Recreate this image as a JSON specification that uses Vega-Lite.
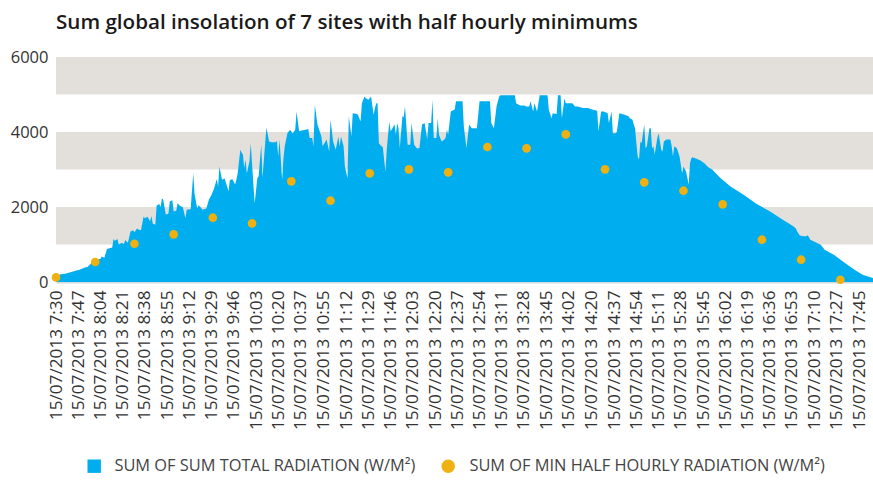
{
  "$schema": "https://vega.github.io/schema/vega-lite/v6.json",
  "width": 817,
  "height": 225,
  "autosize": {"type": "none"},
  "padding": {"left": 56, "top": 57, "right": 0, "bottom": 200},
  "background": "white",
  "title": {"text": "Sum global insolation of 7 sites with half hourly minimums", "anchor": "start", "frame": "group", "font": "Open Sans", "fontSize": 20.6, "fontWeight": 600, "color": "#1a1a1a", "offset": 15},
  "config": {"view": {"stroke": null}, "font": "Open Sans", "axisX": {"labelOverlap": false, "labelSeparation": 0}, "axis": {"labelOverlap": false}},
  "resolve": {"scale": {"color": "independent"}},
  "layer": [
    {
      "data": {"values": [{"lo": 1000, "hi": 2000}, {"lo": 3000, "hi": 4000}, {"lo": 5000, "hi": 6000}]},
      "mark": {"type": "rect", "color": "#E3E0DC"},
      "encoding": {
        "y": {"field": "lo", "type": "quantitative", "scale": {"domain": [0, 6000], "nice": false},
              "axis": {"values": [0, 1000, 2000, 3000, 4000, 5000, 6000], "format": "d", "title": null, "domain": false, "ticks": false, "grid": false, "labelFont": "Open Sans", "labelFontSize": 16.5, "labelColor": "#333333", "labelPadding": 8}},
        "y2": {"field": "hi"}
      }
    },
    {
      "data": {"values": [
        {"t":"07:30","v":130},{"t":"07:33","v":200},{"t":"07:37","v":220},{"t":"07:41","v":260},{"t":"07:45","v":300},{"t":"07:48","v":330},{"t":"07:52","v":390},{"t":"07:54","v":400},{"t":"07:56","v":470},{"t":"07:58","v":540},
        {"t":"08:01","v":590},{"t":"08:04","v":620},{"t":"08:05","v":680},{"t":"08:07","v":650},{"t":"08:09","v":880},{"t":"08:11","v":900},{"t":"08:13","v":920},{"t":"08:14","v":1150},{"t":"08:15","v":1100},{"t":"08:17","v":1150},
        {"t":"08:18","v":1000},{"t":"08:20","v":1040},{"t":"08:22","v":1020},{"t":"08:23","v":1120},{"t":"08:25","v":1050},{"t":"08:27","v":1350},{"t":"08:29","v":1380},{"t":"08:30","v":1330},{"t":"08:32","v":1430},{"t":"08:33","v":1400},
        {"t":"08:35","v":1380},{"t":"08:37","v":1750},{"t":"08:38","v":1700},{"t":"08:40","v":1740},{"t":"08:42","v":1620},{"t":"08:43","v":1760},{"t":"08:44","v":1560},{"t":"08:46","v":1530},{"t":"08:47","v":2040},{"t":"08:49","v":2080},
        {"t":"08:50","v":2000},{"t":"08:51","v":2230},{"t":"08:52","v":2200},{"t":"08:54","v":1800},{"t":"08:56","v":1820},{"t":"08:57","v":2150},{"t":"08:59","v":2180},{"t":"09:00","v":1880},{"t":"09:02","v":1900},{"t":"09:03","v":2100},
        {"t":"09:05","v":2030},{"t":"09:07","v":2000},{"t":"09:09","v":1700},{"t":"09:10","v":1930},{"t":"09:13","v":1940},{"t":"09:15","v":2900},{"t":"09:16","v":2350},{"t":"09:18","v":1970},{"t":"09:19","v":2050},{"t":"09:21","v":1980},
        {"t":"09:22","v":1930},{"t":"09:25","v":1960},{"t":"09:27","v":2200},{"t":"09:29","v":2330},{"t":"09:31","v":2500},{"t":"09:33","v":2750},{"t":"09:34","v":2550},{"t":"09:35","v":3080},{"t":"09:37","v":2730},{"t":"09:39","v":2760},
        {"t":"09:42","v":2420},{"t":"09:43","v":2720},{"t":"09:45","v":2740},{"t":"09:47","v":2600},{"t":"09:48","v":2730},{"t":"09:49","v":2900},{"t":"09:51","v":3530},{"t":"09:52","v":3450},{"t":"09:53","v":3400},{"t":"09:54","v":3040},
        {"t":"09:55","v":3260},{"t":"09:56","v":2900},{"t":"09:58","v":3220},{"t":"09:59","v":3700},{"t":"10:01","v":2600},{"t":"10:02","v":2100},{"t":"10:04","v":2770},{"t":"10:05","v":2820},{"t":"10:07","v":3660},{"t":"10:08","v":2800},
        {"t":"10:10","v":3700},{"t":"10:11","v":4120},{"t":"10:13","v":3750},{"t":"10:15","v":3730},{"t":"10:18","v":3730},{"t":"10:19","v":3770},{"t":"10:20","v":3350},{"t":"10:21","v":3800},{"t":"10:23","v":2730},{"t":"10:24","v":3300},
        {"t":"10:25","v":3620},{"t":"10:27","v":3970},{"t":"10:29","v":4060},{"t":"10:31","v":3960},{"t":"10:33","v":4060},{"t":"10:34","v":4550},{"t":"10:36","v":4020},{"t":"10:38","v":4040},{"t":"10:41","v":4060},{"t":"10:43","v":4080},
        {"t":"10:44","v":3840},{"t":"10:46","v":3840},{"t":"10:47","v":3620},{"t":"10:48","v":4730},{"t":"10:50","v":4200},{"t":"10:51","v":4100},{"t":"10:53","v":3880},{"t":"10:54","v":3620},{"t":"10:57","v":3800},{"t":"10:59","v":3480},
        {"t":"11:00","v":4330},{"t":"11:02","v":3750},{"t":"11:04","v":3530},{"t":"11:06","v":3880},{"t":"11:07","v":3620},{"t":"11:08","v":3880},{"t":"11:10","v":3620},{"t":"11:11","v":3085},{"t":"11:13","v":2770},{"t":"11:14","v":4420},
        {"t":"11:16","v":3880},{"t":"11:17","v":4500},{"t":"11:20","v":4480},{"t":"11:21","v":4460},{"t":"11:23","v":4280},{"t":"11:24","v":4770},{"t":"11:26","v":4950},{"t":"11:27","v":4900},{"t":"11:29","v":4860},{"t":"11:31","v":4950},
        {"t":"11:33","v":4460},{"t":"11:34","v":4640},{"t":"11:35","v":4770},{"t":"11:36","v":4770},{"t":"11:37","v":3700},{"t":"11:39","v":3620},{"t":"11:40","v":3600},{"t":"11:42","v":2950},{"t":"11:43","v":3530},{"t":"11:45","v":4280},
        {"t":"11:46","v":4020},{"t":"11:49","v":4200},{"t":"11:50","v":3930},{"t":"11:51","v":4240},{"t":"11:52","v":4100},{"t":"11:53","v":3570},{"t":"11:55","v":4420},{"t":"11:56","v":4400},{"t":"11:57","v":4680},{"t":"11:59","v":3660},
        {"t":"12:01","v":3660},{"t":"12:02","v":4240},{"t":"12:04","v":3660},{"t":"12:06","v":3570},{"t":"12:08","v":3570},{"t":"12:10","v":4200},{"t":"12:12","v":4240},{"t":"12:14","v":3800},{"t":"12:15","v":4240},{"t":"12:17","v":4240},
        {"t":"12:18","v":4860},{"t":"12:19","v":3840},{"t":"12:21","v":3840},{"t":"12:22","v":4370},{"t":"12:23","v":3930},{"t":"12:25","v":3750},{"t":"12:27","v":3800},{"t":"12:28","v":3840},{"t":"12:29","v":4060},{"t":"12:30","v":3930},
        {"t":"12:32","v":4550},{"t":"12:35","v":4600},{"t":"12:36","v":4820},{"t":"12:39","v":4820},{"t":"12:41","v":4820},{"t":"12:42","v":4150},{"t":"12:44","v":3570},{"t":"12:46","v":4200},{"t":"12:48","v":4100},{"t":"12:52","v":4100},
        {"t":"12:54","v":4820},{"t":"12:58","v":4820},{"t":"13:02","v":4820},{"t":"13:03","v":4240},{"t":"13:05","v":4100},{"t":"13:07","v":4680},{"t":"13:09","v":4950},{"t":"13:10","v":4980},{"t":"13:21","v":4980},{"t":"13:22","v":4770},
        {"t":"13:25","v":4710},{"t":"13:28","v":4710},{"t":"13:30","v":4680},{"t":"13:32","v":4680},{"t":"13:33","v":4820},{"t":"13:35","v":4550},{"t":"13:36","v":4770},{"t":"13:38","v":4550},{"t":"13:40","v":4980},{"t":"13:46","v":4980},
        {"t":"13:47","v":4600},{"t":"13:49","v":4370},{"t":"13:50","v":4500},{"t":"13:53","v":4480},{"t":"13:54","v":4980},{"t":"13:56","v":4980},{"t":"13:57","v":4370},{"t":"13:59","v":4900},{"t":"14:00","v":4770},{"t":"14:05","v":4770},
        {"t":"14:07","v":4680},{"t":"14:09","v":4680},{"t":"14:13","v":4640},{"t":"14:17","v":4640},{"t":"14:20","v":4600},{"t":"14:24","v":4570},{"t":"14:25","v":4020},{"t":"14:27","v":4550},{"t":"14:29","v":4550},{"t":"14:32","v":4500},
        {"t":"14:33","v":4240},{"t":"14:35","v":4550},{"t":"14:36","v":3970},{"t":"14:38","v":3970},{"t":"14:39","v":4000},{"t":"14:41","v":4500},{"t":"14:43","v":4480},{"t":"14:45","v":4460},{"t":"14:48","v":4420},{"t":"14:49","v":4370},
        {"t":"14:51","v":4330},{"t":"14:52","v":4200},{"t":"14:53","v":4100},{"t":"14:54","v":3700},{"t":"14:55","v":3350},{"t":"14:56","v":3260},{"t":"14:57","v":3750},{"t":"14:58","v":3700},{"t":"15:00","v":4200},{"t":"15:01","v":3570},
        {"t":"15:02","v":3620},{"t":"15:04","v":4100},{"t":"15:05","v":4100},{"t":"15:06","v":3570},{"t":"15:07","v":3620},{"t":"15:08","v":3400},{"t":"15:10","v":3840},{"t":"15:11","v":3970},{"t":"15:13","v":3530},{"t":"15:14","v":3480},
        {"t":"15:15","v":3750},{"t":"15:17","v":3800},{"t":"15:20","v":3800},{"t":"15:21","v":3620},{"t":"15:22","v":3350},{"t":"15:23","v":3620},{"t":"15:25","v":3570},{"t":"15:27","v":3350},{"t":"15:29","v":2900},{"t":"15:30","v":3080},
        {"t":"15:32","v":2950},{"t":"15:34","v":2600},{"t":"15:35","v":3170},{"t":"15:36","v":3300},{"t":"15:37","v":3330},{"t":"15:40","v":3290},{"t":"15:43","v":3240},{"t":"15:46","v":3170},{"t":"15:49","v":3060},{"t":"15:52","v":3000},
        {"t":"15:58","v":2780},{"t":"16:06","v":2550},{"t":"16:16","v":2330},{"t":"16:26","v":2080},{"t":"16:36","v":1885},{"t":"16:46","v":1660},{"t":"16:54","v":1485},{"t":"16:56","v":1430},{"t":"16:57","v":1350},{"t":"16:59","v":1240},
        {"t":"17:02","v":1220},{"t":"17:04","v":1220},{"t":"17:05","v":1250},{"t":"17:06","v":1200},{"t":"17:07","v":1130},{"t":"17:15","v":995},{"t":"17:18","v":860},{"t":"17:25","v":730},{"t":"17:32","v":550},{"t":"17:40","v":350},
        {"t":"17:47","v":195},{"t":"17:53","v":125},{"t":"17:55","v":105}
      ], "format": {"parse": {"t": "date:'%H:%M'"}}},
      "mark": {"type": "area", "interpolate": "linear"},
      "encoding": {
        "x": {"field": "t", "type": "temporal",
              "scale": {"domain": [{"year":1900,"month":1,"date":1,"hours":7,"minutes":30},{"year":1900,"month":1,"date":1,"hours":17,"minutes":55}]},
              "axis": {"title": null, "grid": false, "ticks": false, "domain": true, "domainColor": "#D3D9DE", "domainWidth": 2, "tickCount": 60,
                       "format": "15/07/2013 %-H:%M", "labelAngle": -90, "labelFont": "Open Sans", "labelFontSize": 17.2, "labelColor": "#333333",
                       "labelPadding": 8, "labelOverlap": false, "labelSeparation": 0, "labelFlush": false, "labelBound": false,
                       "values": [
                         {"year":1900,"month":1,"date":1,"hours":7,"minutes":30},{"year":1900,"month":1,"date":1,"hours":7,"minutes":47},
                         {"year":1900,"month":1,"date":1,"hours":8,"minutes":4},{"year":1900,"month":1,"date":1,"hours":8,"minutes":21},
                         {"year":1900,"month":1,"date":1,"hours":8,"minutes":38},{"year":1900,"month":1,"date":1,"hours":8,"minutes":55},
                         {"year":1900,"month":1,"date":1,"hours":9,"minutes":12},{"year":1900,"month":1,"date":1,"hours":9,"minutes":29},
                         {"year":1900,"month":1,"date":1,"hours":9,"minutes":46},{"year":1900,"month":1,"date":1,"hours":10,"minutes":3},
                         {"year":1900,"month":1,"date":1,"hours":10,"minutes":20},{"year":1900,"month":1,"date":1,"hours":10,"minutes":37},
                         {"year":1900,"month":1,"date":1,"hours":10,"minutes":55},{"year":1900,"month":1,"date":1,"hours":11,"minutes":12},
                         {"year":1900,"month":1,"date":1,"hours":11,"minutes":29},{"year":1900,"month":1,"date":1,"hours":11,"minutes":46},
                         {"year":1900,"month":1,"date":1,"hours":12,"minutes":3},{"year":1900,"month":1,"date":1,"hours":12,"minutes":20},
                         {"year":1900,"month":1,"date":1,"hours":12,"minutes":37},{"year":1900,"month":1,"date":1,"hours":12,"minutes":54},
                         {"year":1900,"month":1,"date":1,"hours":13,"minutes":11},{"year":1900,"month":1,"date":1,"hours":13,"minutes":28},
                         {"year":1900,"month":1,"date":1,"hours":13,"minutes":45},{"year":1900,"month":1,"date":1,"hours":14,"minutes":2},
                         {"year":1900,"month":1,"date":1,"hours":14,"minutes":20},{"year":1900,"month":1,"date":1,"hours":14,"minutes":37},
                         {"year":1900,"month":1,"date":1,"hours":14,"minutes":54},{"year":1900,"month":1,"date":1,"hours":15,"minutes":11},
                         {"year":1900,"month":1,"date":1,"hours":15,"minutes":28},{"year":1900,"month":1,"date":1,"hours":15,"minutes":45},
                         {"year":1900,"month":1,"date":1,"hours":16,"minutes":2},{"year":1900,"month":1,"date":1,"hours":16,"minutes":19},
                         {"year":1900,"month":1,"date":1,"hours":16,"minutes":36},{"year":1900,"month":1,"date":1,"hours":16,"minutes":53},
                         {"year":1900,"month":1,"date":1,"hours":17,"minutes":10},{"year":1900,"month":1,"date":1,"hours":17,"minutes":27},
                         {"year":1900,"month":1,"date":1,"hours":17,"minutes":45}
                       ]}},
        "y": {"field": "v", "type": "quantitative"},
        "color": {"datum": "SUM OF SUM TOTAL RADIATION (W/M²)", "type": "nominal",
                  "scale": {"range": ["#00AEEF"]},
                  "legend": {"orient": "none", "legendX": 30, "legendY": 401, "title": null, "symbolType": "square", "symbolSize": 180,
                             "labelFont": "Open Sans", "labelFontSize": 16.4, "labelColor": "#444444", "labelOffset": 12, "padding": 0, "symbolStrokeWidth": 0, "labelLimit": 600}}
      }
    },
    {
      "data": {"values": [
        {"t":"07:30","v":123},{"t":"08:00","v":533},{"t":"08:30","v":1020},{"t":"09:00","v":1270},{"t":"09:30","v":1715},{"t":"10:00","v":1563},{"t":"10:30","v":2684},
        {"t":"11:00","v":2168},{"t":"11:30","v":2897},{"t":"12:00","v":3004},{"t":"12:30","v":2924},{"t":"13:00","v":3600},{"t":"13:30","v":3564},{"t":"14:00","v":3937},
        {"t":"14:30","v":3004},{"t":"15:00","v":2657},{"t":"15:30","v":2435},{"t":"16:00","v":2070},{"t":"16:30","v":1128},{"t":"17:00","v":595},{"t":"17:30","v":61}
      ], "format": {"parse": {"t": "date:'%H:%M'"}}},
      "mark": {"type": "point", "filled": true, "size": 75, "opacity": 1},
      "encoding": {
        "x": {"field": "t", "type": "temporal", "axis": {"labelOverlap": false, "labelSeparation": 0, "tickCount": 60}},
        "y": {"field": "v", "type": "quantitative"},
        "color": {"datum": "SUM OF MIN HALF HOURLY RADIATION (W/M²)", "type": "nominal",
                  "scale": {"range": ["#EEB111"]},
                  "legend": {"orient": "none", "legendX": 384, "legendY": 401, "title": null, "symbolType": "circle", "symbolSize": 180,
                             "labelFont": "Open Sans", "labelFontSize": 16.4, "labelColor": "#444444", "labelOffset": 13, "padding": 0, "symbolStrokeWidth": 0, "symbolOpacity": 1, "labelLimit": 600}}
      }
    }
  ]
}
